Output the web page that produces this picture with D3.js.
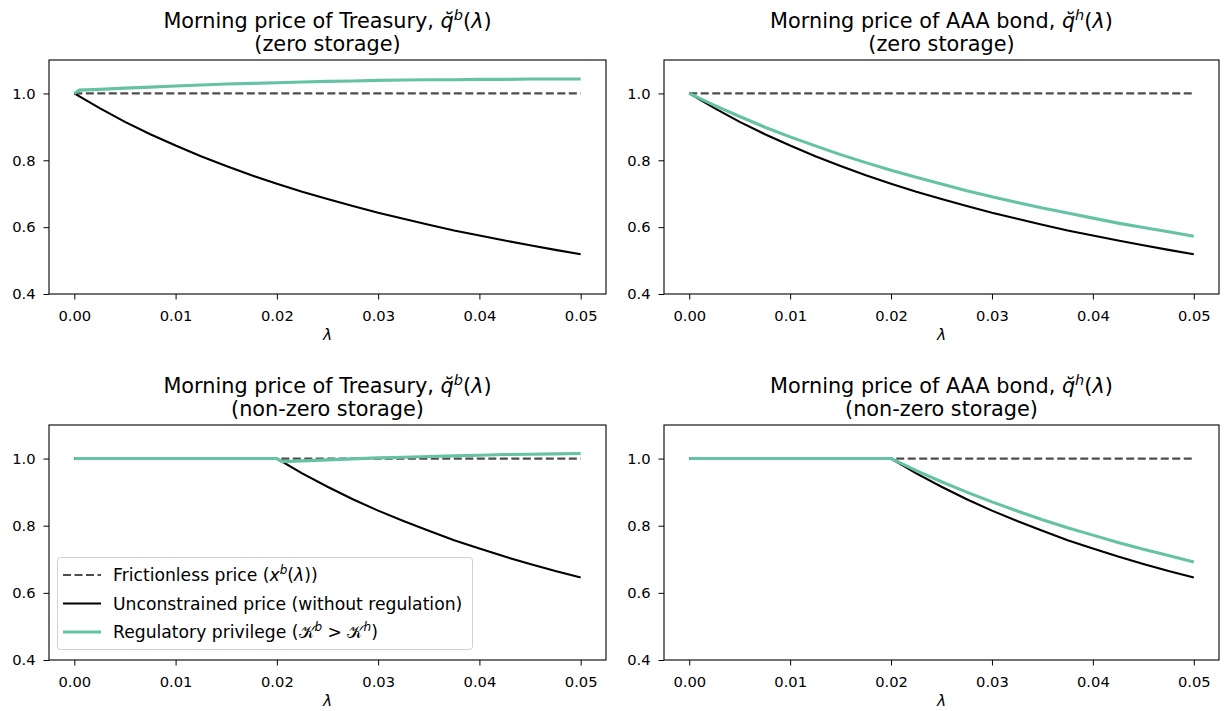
<!DOCTYPE html>
<html>
<head>
<meta charset="utf-8">
<script src="https://cdn.jsdelivr.net/npm/d3@7"></script>
<style>
  body { margin: 0; background: #fff; }
  svg { display: block; font-family: "DejaVu Sans", sans-serif; }
</style>
</head>
<body>
<svg id="chart" width="1225" height="711"></svg>
<script>
// ---- data ----
const xTicks = [0, 0.01, 0.02, 0.03, 0.04, 0.05];
const yTicks = [0.4, 0.6, 0.8, 1.0];

// lambda grid shared by the smooth curves
const lam = [0, 0.0025, 0.005, 0.0075, 0.01, 0.0125, 0.015, 0.0175, 0.02, 0.0225, 0.025,
             0.0275, 0.03, 0.0325, 0.035, 0.0375, 0.04, 0.0425, 0.045, 0.0475, 0.05];

// frictionless price x(λ)
const frictionless = [1, 1, 1, 1, 1, 1, 1, 1, 1, 1, 1, 1, 1, 1, 1, 1, 1, 1, 1, 1, 1];

// zero storage
const unconstrainedZero = [1.000, 0.956, 0.915, 0.878, 0.844, 0.812, 0.783, 0.755, 0.730, 0.706, 0.684,
                           0.663, 0.643, 0.625, 0.607, 0.590, 0.575, 0.560, 0.546, 0.532, 0.519];
const lamTreasZero = [0, 0.0005, 0.0025, 0.005, 0.0075, 0.01, 0.0125, 0.015, 0.0175, 0.02, 0.0225, 0.025,
                      0.0275, 0.03, 0.0325, 0.035, 0.0375, 0.04, 0.0425, 0.045, 0.0475, 0.05];
const privTreasZero = [1.000, 1.010, 1.012, 1.016, 1.019, 1.022, 1.025, 1.028, 1.030, 1.032, 1.034, 1.036,
                       1.037, 1.039, 1.040, 1.041, 1.041, 1.042, 1.042, 1.043, 1.043, 1.043];
const privAAAZero = [1.000, 0.964, 0.931, 0.899, 0.870, 0.843, 0.817, 0.793, 0.770, 0.749, 0.729,
                     0.709, 0.691, 0.674, 0.657, 0.642, 0.627, 0.612, 0.599, 0.586, 0.573];

// non-zero storage
const unconstrainedStor = [1, 1, 1, 1, 1, 1, 1, 1, 1.000, 0.956, 0.916,
                           0.879, 0.845, 0.814, 0.785, 0.757, 0.732, 0.708, 0.686, 0.665, 0.646];
const lamTreasStor = [0, 0.0025, 0.005, 0.0075, 0.01, 0.0125, 0.015, 0.0175, 0.02, 0.0205, 0.0225, 0.025,
                      0.0275, 0.03, 0.0325, 0.035, 0.0375, 0.04, 0.0425, 0.045, 0.0475, 0.05];
const privTreasStor = [1, 1, 1, 1, 1, 1, 1, 1, 1.000, 0.991, 0.993, 0.996,
                       0.999, 1.002, 1.004, 1.006, 1.008, 1.010, 1.012, 1.013, 1.014, 1.015];
const privAAAStor = [1, 1, 1, 1, 1, 1, 1, 1, 1.000, 0.964, 0.931,
                     0.900, 0.871, 0.844, 0.818, 0.794, 0.772, 0.750, 0.730, 0.711, 0.692];

const legendLabels = ["Frictionless price", "Unconstrained price (without regulation)", "Regulatory privilege"];

// ---- styles ----
const colDash = "#4d4d4d", colBlack = "#000000", colGreen = "#66c2a5";
const dashPattern = "8,3.5";
const fsTick = 14.7, fsTitle = 20.8, fsLegend = 17.2, fsLabel = 15.5;

const svg = d3.select("#chart");

const panels = [
  { box: [49, 60, 606, 294], asset: "Treasury", sup: "b", store: "(zero storage)",
    unc: [lam, unconstrainedZero], priv: [lamTreasZero, privTreasZero], legend: false },
  { box: [664, 60, 1219, 294], asset: "AAA bond", sup: "h", store: "(zero storage)",
    unc: [lam, unconstrainedZero], priv: [lam, privAAAZero], legend: false },
  { box: [49, 425, 606, 660], asset: "Treasury", sup: "b", store: "(non-zero storage)",
    unc: [lam, unconstrainedStor], priv: [lamTreasStor, privTreasStor], legend: true },
  { box: [664, 425, 1219, 660], asset: "AAA bond", sup: "h", store: "(non-zero storage)",
    unc: [lam, unconstrainedStor], priv: [lam, privAAAStor], legend: false }
];

function pairs(xs, ys) { return xs.map((x, i) => [x, ys[i]]); }

panels.forEach(p => {
  const [x0, y0, x1, y1] = p.box;
  const x = d3.scaleLinear().domain([-0.0025, 0.0525]).range([x0, x1]);
  const y = d3.scaleLinear().domain([0.4, 1.1]).range([y1, y0]);
  const g = svg.append("g");

  const line = d3.line().x(d => x(d[0])).y(d => y(d[1]));

  const clip = "clip" + x0 + "_" + y0;
  g.append("clipPath").attr("id", clip).append("rect")
    .attr("x", x0).attr("y", y0).attr("width", x1 - x0).attr("height", y1 - y0);
  const plot = g.append("g").attr("clip-path", `url(#${clip})`);

  plot.append("path").datum(pairs(lam, frictionless)).attr("d", line)
    .attr("fill", "none").attr("stroke", colDash).attr("stroke-width", 2.2)
    .attr("stroke-dasharray", dashPattern);
  plot.append("path").datum(pairs(p.unc[0], p.unc[1])).attr("d", line)
    .attr("fill", "none").attr("stroke", colBlack).attr("stroke-width", 2.1);
  plot.append("path").datum(pairs(p.priv[0], p.priv[1])).attr("d", line)
    .attr("fill", "none").attr("stroke", colGreen).attr("stroke-width", 3.1);

  // axes
  const xAxis = d3.axisBottom(x).tickValues(xTicks).tickFormat(d3.format(".2f"))
    .tickSize(5.5).tickPadding(5);
  const yAxis = d3.axisLeft(y).tickValues(yTicks).tickFormat(d3.format(".1f"))
    .tickSize(5.5).tickPadding(8);
  const gx = g.append("g").attr("transform", `translate(0,${y1})`).call(xAxis);
  const gy = g.append("g").attr("transform", `translate(${x0},0)`).call(yAxis);
  [gx, gy].forEach(a => {
    a.attr("font-family", null).attr("font-size", null);
    a.select(".domain").remove();
    a.selectAll(".tick line").attr("stroke", "#000").attr("stroke-width", 1);
    a.selectAll(".tick text").style("font-family", "DejaVu Sans").style("font-size", fsTick + "px")
      .attr("fill", "#000");
  });
  gx.selectAll(".tick text").attr("y", 27).attr("dy", 0);

  g.append("rect").attr("x", x0).attr("y", y0).attr("width", x1 - x0).attr("height", y1 - y0)
    .attr("fill", "none").attr("stroke", "#000").attr("stroke-width", 1.1);

  // x label
  g.append("text").attr("x", (x0 + x1) / 2).attr("y", y1 + 46).attr("text-anchor", "middle")
    .attr("font-size", fsLabel).attr("font-style", "italic").text("λ");

  // title (two lines)
  const cx = (x0 + x1) / 2;
  const t1 = g.append("text").attr("x", cx).attr("y", y0 - 32).attr("text-anchor", "middle")
    .attr("font-size", fsTitle);
  t1.append("tspan").text(`Morning price of ${p.asset}, `);
  t1.append("tspan").attr("font-style", "italic").text("q\u0306");
  t1.append("tspan").attr("font-size", fsTitle * 0.7).attr("dy", -8).attr("font-style", "italic").text(p.sup);
  t1.append("tspan").attr("dy", 8).text("(");
  t1.append("tspan").attr("font-style", "italic").text("λ");
  t1.append("tspan").text(")");
  g.append("text").attr("x", cx).attr("y", y0 - 9).attr("text-anchor", "middle")
    .attr("font-size", fsTitle).text(p.store);

  if (p.legend) {
    const lg = g.append("g");
    lg.append("rect").attr("x", 57.5).attr("y", 557.5).attr("width", 415).attr("height", 92)
      .attr("rx", 3).attr("fill", "#fff").attr("fill-opacity", 0.8)
      .attr("stroke", "#d0d0d0").attr("stroke-width", 1);
    const items = [
      { c: colDash, w: 2.2, dash: dashPattern },
      { c: colBlack, w: 2.1, dash: null },
      { c: colGreen, w: 3.1, dash: null }
    ];
    items.forEach((it, i) => {
      const yy = 575 + i * 28.5;
      const ln = lg.append("line").attr("x1", 63).attr("x2", 101).attr("y1", yy).attr("y2", yy)
        .attr("stroke", it.c).attr("stroke-width", it.w);
      if (it.dash) ln.attr("stroke-dasharray", it.dash);
      const t = lg.append("text").attr("x", 113).attr("y", yy + 6).attr("font-size", fsLegend);
      t.append("tspan").text(legendLabels[i]);
      const sub = fsLegend * 0.7;
      if (i === 0) {
        t.append("tspan").text(" (");
        t.append("tspan").attr("font-style", "italic").text("x");
        t.append("tspan").attr("font-size", sub).attr("dy", -7).attr("font-style", "italic").text("b");
        t.append("tspan").attr("dy", 7).text("(");
        t.append("tspan").attr("font-style", "italic").text("λ");
        t.append("tspan").text("))");
      } else if (i === 2) {
        t.append("tspan").text(" (");
        t.append("tspan").text("\u{1D4A6}");
        t.append("tspan").attr("font-size", sub).attr("dy", -7).attr("font-style", "italic").text("b");
        t.append("tspan").attr("dy", 7).text(" > ");
        t.append("tspan").text("\u{1D4A6}");
        t.append("tspan").attr("font-size", sub).attr("dy", -7).attr("font-style", "italic").text("h");
        t.append("tspan").attr("dy", 7).text(")");
      }
    });
  }
});
</script>
</body>
</html>
